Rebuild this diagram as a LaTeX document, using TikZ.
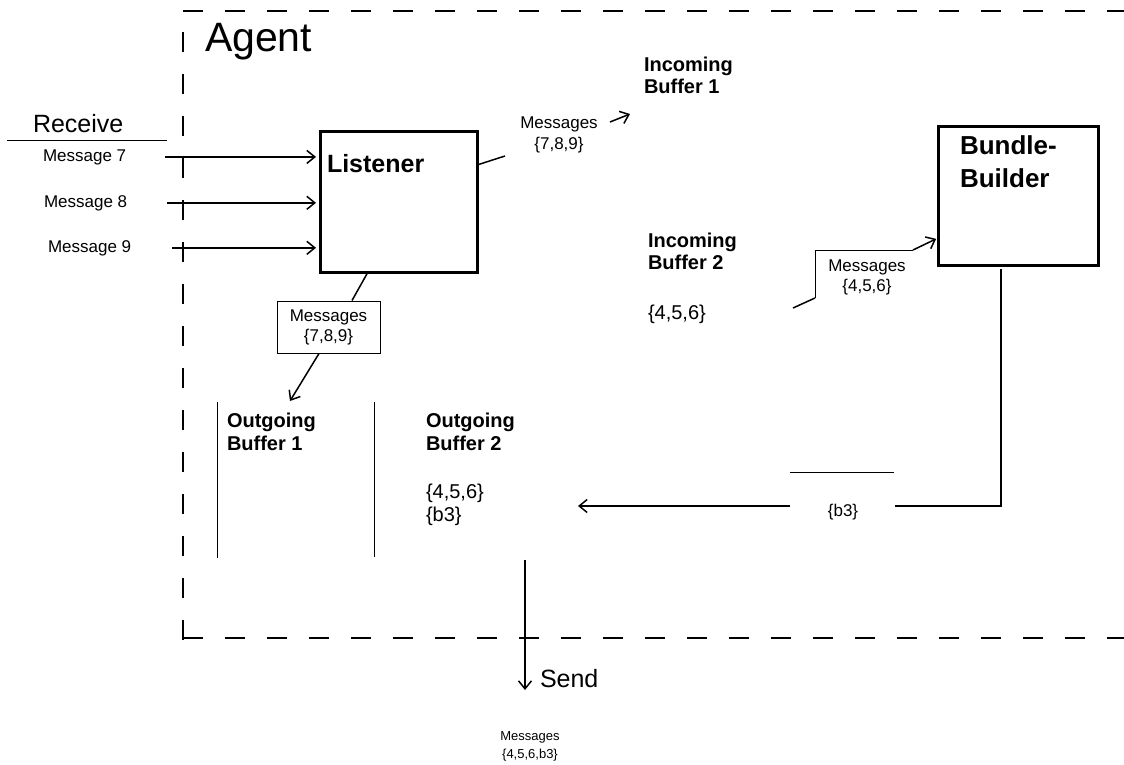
\documentclass[tikz,border=0pt]{standalone}
\usepackage{fontspec}
\setmainfont{Liberation Sans}
\usetikzlibrary{arrows.meta}
\newcommand\myfs[2]{\fontsize{#1}{#2}\selectfont}
\begin{document}
\begin{tikzpicture}[x=1pt,y=-1pt,
  txt/.style={inner sep=0pt, outer sep=0pt},
  bigbox/.style={draw, line width=3pt, inner sep=0pt, outer sep=0pt, anchor=north west},
  arr/.style={line width=1.5pt, -{Straight Barb[length=8pt,width=13pt,line width=1.5pt]}},
  mid/.style={line width=1.5pt},
  thinline/.style={line width=1pt},
  border/.style={line width=2.5pt, dash pattern=on 20pt off 22pt},
  lbl/.style={txt, font=\myfs{17}{20}, align=center}]
\useasboundingbox (0,0) rectangle (1124,765);

% agent border
\draw[border] (183,11) -- (1124,11);
\draw[border, dash phase=21pt] (183,11) -- (183,640);
\draw[border] (183,638) -- (1124,638);
\node[txt, anchor=base west, font=\myfs{41}{41}] (agent) at (205,52) {Agent};

% receive side
\node[txt, anchor=base west, font=\myfs{25}{25}] (receive) at (33,133) {Receive};
\coordinate (rcvL) at (7,141);
\coordinate (rcvR) at (167,141);
\draw[thinline] (rcvL) -- (rcvR);
\node[txt, anchor=base west, font=\myfs{17}{17}] (m7) at (43,161) {Message 7};
\node[txt, anchor=base west, font=\myfs{17}{17}] (m8) at (44,207) {Message 8};
\node[txt, anchor=base west, font=\myfs{17}{17}] (m9) at (48,252) {Message 9};

% boxes
\node[bigbox, minimum width=157pt, minimum height=140pt] (listener) at (320,132) {};
\node[txt, anchor=base west, font=\bfseries\myfs{25}{25}] (listenerlbl) at (327,172) {Listener};
\node[bigbox, minimum width=160pt, minimum height=138pt] (bb) at (938,127) {};
\node[txt, anchor=north west, align=left, font=\bfseries\myfs{26}{33}] (bblbl) at (960,136) {Bundle-\\Builder};

% message arrows
\draw[arr, shorten >=4pt] ([xshift=39pt]m7.east) -- (m7.east -| listener.west);
\draw[arr, shorten >=4pt] ([xshift=40pt]m8.east) -- (m8.east -| listener.west);
\draw[arr, shorten >=4pt] ([xshift=41pt]m9.east) -- (m9.east -| listener.west);

% incoming buffers
\node[txt, anchor=north west, align=left, font=\bfseries\myfs{20}{22}] (ib1) at (644,57) {Incoming\\Buffer 1};
\node[txt, anchor=north west, align=left, font=\bfseries\myfs{20}{22}] (ib2) at (648,233) {Incoming\\Buffer 2};
\node[txt, anchor=north west, font=\myfs{20}{22}] (ib2c) at (648,305) {\{4,5,6\}};

% listener -> incoming buffer 1
\node[lbl, anchor=north, font=\myfs{17}{21}] (msgA) at (559,117) {Messages\\\{7,8,9\}};
\coordinate (lnA) at (505,156);
\draw[mid] ([yshift=-33pt]listener.north east) -- (lnA);
\coordinate (iaS) at (610,122);
\coordinate (iaE) at (630,114);
\draw[arr] (iaS) -- (iaE);

% listener -> outgoing buffer 1
\node[draw, thinline, minimum width=103pt, minimum height=52pt, inner sep=0pt, align=center, font=\myfs{17}{20}] (cb1) at (328.5,327) {Messages\\\{7,8,9\}};
\draw[mid] ([xshift=48pt]listener.south west) -- ([xshift=23.5pt]cb1.north);
\coordinate (ob1tip) at (290,401);
\draw[arr] ([xshift=-9.5pt]cb1.south) -- (ob1tip);

% outgoing buffers
\coordinate (ob1a) at (217,402);
\coordinate (ob1b) at (217,558);
\coordinate (ob2a) at (374,402);
\coordinate (ob2b) at (374,557);
\draw[thinline] (ob1a) -- (ob1b);
\draw[thinline] (ob2a) -- (ob2b);
\node[txt, anchor=north west, align=left, font=\bfseries\myfs{20}{23}] (ob1) at (227,413) {Outgoing\\Buffer 1};
\node[txt, anchor=north west, align=left, font=\bfseries\myfs{20}{23}] (ob2) at (426,413) {Outgoing\\Buffer 2};
\node[txt, anchor=north west, align=left, font=\myfs{20}{23}] (ob2c) at (426,484) {\{4,5,6\}\\\{b3\}};

% incoming buffer 2 -> bundle builder
\node[lbl, anchor=north, font=\myfs{17}{20}] (msgB) at (867,260) {Messages\\\{4,5,6\}};
\coordinate (c2a) at (793,308);
\coordinate (c2b) at (815,298);
\coordinate (c2c) at (815,250);
\coordinate (c2d) at (913,250);
\draw[thinline] (c2b) -- (c2c) -- (c2d);
\draw[mid] (c2a) -- (c2b);
\draw[arr, shorten >=2pt] (c2d) -- ([yshift=-111pt]bb.north west);

% bundle builder -> outgoing buffer 2
\node[txt, font=\myfs{17}{17}] (b3) at (843,512) {\{b3\}};
\coordinate (bbo1) at (1001,506);
\coordinate (bbo2) at (895,506);
\coordinate (bbo3) at (790,506);
\coordinate (bbo4) at (578,506);
\draw[mid] ([xshift=63pt, yshift=-4pt]bb.south west) -- (bbo1) -- (bbo2);
\draw[arr] (bbo3) -- (bbo4);
\coordinate (b3l) at (790,472);
\coordinate (b3r) at (894,472);
\draw[thinline] (b3l) -- (b3r);

% send
\coordinate (sendS) at (525,560);
\coordinate (sendE) at (525,690);
\draw[arr] (sendS) -- (sendE);
\node[txt, anchor=base west, font=\myfs{25}{25}] (send) at (540,687) {Send};
\node[lbl, anchor=north, font=\myfs{13}{18}] (msgC) at (530,732) {Messages\\\{4,5,6,b3\}};
\end{tikzpicture}
\end{document}
